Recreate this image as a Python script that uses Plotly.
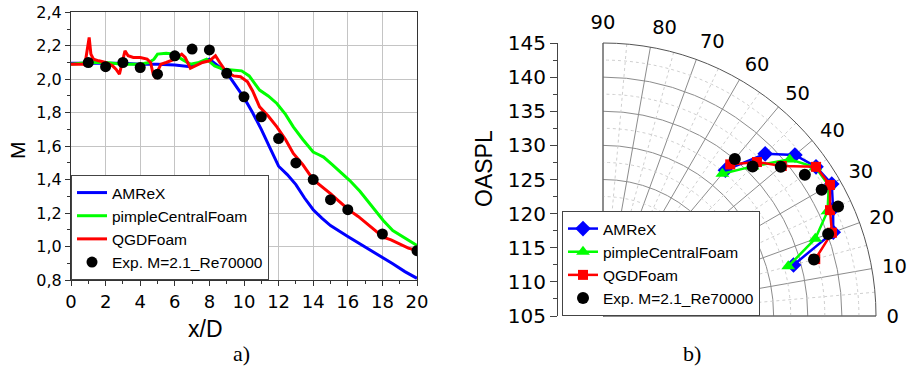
import numpy as np
import plotly.graph_objects as go

# ---------------- Data: left panel (Mach number along jet axis) ----------------
amrex_x = [0, 1, 2, 3, 4, 5, 6, 6.9, 7.5, 8.0, 8.5, 9.0, 9.5, 10.0, 10.5, 11.0, 11.5,
           12.0, 12.5, 13.0, 13.5, 14.0, 14.5, 15.0, 16.0, 16.7, 17.7, 18.6, 19.3, 20.0]
amrex_m = [2.095, 2.095, 2.095, 2.095, 2.09, 2.09, 2.085, 2.075, 2.10, 2.12, 2.08, 2.04,
           1.965, 1.89, 1.80, 1.70, 1.59, 1.48, 1.43, 1.37, 1.29, 1.22, 1.17, 1.125,
           1.06, 1.017, 0.957, 0.897, 0.85, 0.81]

pimple_x = [0, 1, 2, 3, 4, 4.5, 4.8, 5.0, 5.5, 6.0, 6.4, 6.9, 7.4, 7.84, 8.3, 8.8, 9.3,
            9.86, 10.3, 10.9, 11.4, 11.9, 12.4, 12.85, 13.4, 14.0, 14.3, 14.6, 15.1,
            15.7, 16.1, 16.7, 17.3, 18.05, 18.6, 19.3, 20.0]
pimple_m = [2.09, 2.10, 2.10, 2.09, 2.09, 2.10, 2.12, 2.15, 2.155, 2.15, 2.12, 2.09, 2.10,
            2.12, 2.08, 2.06, 2.055, 2.05, 2.02, 1.935, 1.90, 1.855, 1.79, 1.715, 1.64,
            1.565, 1.55, 1.535, 1.49, 1.436, 1.396, 1.33, 1.255, 1.156, 1.096, 1.05, 1.006]

qgd_x = [0, 0.7, 0.8, 0.95, 1.05, 1.15, 1.3, 1.6, 2.0, 2.4, 2.6, 2.8, 2.95, 3.12, 3.3,
         3.6, 4.0, 4.4, 4.6, 4.75, 4.85, 5.0, 5.2, 5.5, 6.0, 6.4, 6.6, 6.9, 7.2, 7.6,
         8.0, 8.35, 8.6, 9.0, 9.4, 9.8, 10.2, 10.5, 10.9, 11.4, 11.9, 12.4, 12.85, 13.4,
         14.0, 14.5, 15.0, 15.5, 16.1, 16.6, 17.1, 17.5, 18.05, 18.5, 19.0, 19.5, 20.0]
qgd_m = [2.09, 2.09, 2.085, 2.18, 2.25, 2.15, 2.12, 2.11, 2.10, 2.08, 2.06, 2.03, 2.09,
         2.17, 2.14, 2.13, 2.13, 2.12, 2.10, 2.03, 2.015, 2.05, 2.09, 2.10, 2.12, 2.15,
         2.13, 2.065, 2.08, 2.10, 2.11, 2.14, 2.10, 2.04, 2.02, 2.015, 1.985, 1.93,
         1.835, 1.78, 1.715, 1.64, 1.556, 1.49, 1.40, 1.36, 1.316, 1.27, 1.216, 1.18,
         1.136, 1.10, 1.056, 1.04, 1.016, 0.99, 0.976]

exp_x = [1, 2, 3, 4, 5, 6, 7, 8, 9, 10, 11, 12, 13, 14, 15, 16, 18, 20]
exp_m = [2.10, 2.075, 2.10, 2.07, 2.03, 2.14, 2.18, 2.175, 2.035, 1.895, 1.775, 1.645,
         1.50, 1.40, 1.28, 1.22, 1.075, 0.975]

x_ticks = [0, 2, 4, 6, 8, 10, 12, 14, 16, 18, 20]
m_ticks = [0.8, 1.0, 1.2, 1.4, 1.6, 1.8, 2.0, 2.2, 2.4]

# ---------------- Data: right panel (OASPL directivity) ----------------
angles = [50, 45, 40, 35, 30, 25, 20, 15]
oaspl_amrex = [132.9, 138.6, 141.7, 143.1, 143.7, 142.2, 140.9, 133.9]
oaspl_pimple = [132.2, 136.0, 140.7, 143.0, 143.2, 141.3, 138.1, 133.1]
oaspl_qgd = [134.0, 136.9, 139.2, 143.1, 143.4, 141.7, 140.7, 137.2]
oaspl_exp = [135.05, 136.0, 139.0, 141.1, 142.0, 143.0, 140.1, 137.0]
oaspl_ticks = [105, 110, 115, 120, 125, 130, 135, 140, 145]
angle_ticks = [0, 10, 20, 30, 40, 50, 60, 70, 80, 90]

BLUE, GREEN, RED = "#0000ff", "#00ff00", "#ff0000"
W, H = 909, 376
SANS = "Liberation Sans, Arial, sans-serif"
DEJA = "DejaVu Sans, sans-serif"

def px_x(p):
    return p / W

def px_y(p):
    return 1 - p / H

fig = go.Figure()

# ---- left panel traces ----
fig.add_trace(go.Scatter(x=amrex_x, y=amrex_m, mode="lines", name="AMReX",
                         line=dict(color=BLUE, width=3), legend="legend"))
fig.add_trace(go.Scatter(x=pimple_x, y=pimple_m, mode="lines", name="pimpleCentralFoam",
                         line=dict(color=GREEN, width=3), legend="legend"))
fig.add_trace(go.Scatter(x=qgd_x, y=qgd_m, mode="lines", name="QGDFoam",
                         line=dict(color=RED, width=3), legend="legend"))
fig.add_trace(go.Scatter(x=exp_x, y=exp_m, mode="markers", name="Exp. M=2.1_Re70000",
                         marker=dict(color="black", size=11), legend="legend"))

# ---- right panel: minor dashed grid (decoration) ----
th = np.linspace(0, 90, 91)
ring_r, ring_t = [], []
for rv in np.arange(107.5, 145, 5):
    ring_r += [rv] * len(th) + [None]
    ring_t += list(th) + [None]
ray_r, ray_t = [], []
for a in range(5, 90, 10):
    ray_r += [105, 145, None]
    ray_t += [a, a, None]
fig.add_trace(go.Scatterpolar(r=ring_r + ray_r, theta=ring_t + ray_t, mode="lines",
                              line=dict(color="#cfcfcf", width=1, dash="3px,3px"),
                              showlegend=False, hoverinfo="skip", connectgaps=False))

fig.add_trace(go.Scatterpolar(r=oaspl_amrex, theta=angles, mode="lines+markers", name="AMReX",
                              line=dict(color=BLUE, width=2.5),
                              marker=dict(symbol="diamond", size=12, color=BLUE), legend="legend2"))
fig.add_trace(go.Scatterpolar(r=oaspl_pimple, theta=angles, mode="lines+markers",
                              name="pimpleCentralFoam", line=dict(color=GREEN, width=2.5),
                              marker=dict(symbol="triangle-up", size=12, color=GREEN),
                              legend="legend2"))
fig.add_trace(go.Scatterpolar(r=oaspl_qgd, theta=angles, mode="lines+markers", name="QGDFoam",
                              line=dict(color=RED, width=2.5),
                              marker=dict(symbol="square", size=10, color=RED), legend="legend2"))
fig.add_trace(go.Scatterpolar(r=oaspl_exp, theta=angles, mode="markers",
                              name="Exp. M=2.1_Re70000",
                              marker=dict(symbol="circle", size=12, color="black"),
                              legend="legend2"))

# dummy trace for the separate OASPL scale axis
fig.add_trace(go.Scatter(x=[None], y=[None], xaxis="x2", yaxis="y2", showlegend=False,
                         hoverinfo="skip"))

polar_l, polar_r, polar_t, polar_b = 603, 876, 43, 316

fig.update_layout(
    template="none",
    width=W, height=H, margin=dict(l=0, r=0, t=0, b=0, autoexpand=False),
    paper_bgcolor="white", plot_bgcolor="white",
    separators=", ",
    font=dict(family=SANS, color="black"),
    xaxis=dict(domain=[px_x(71), px_x(417)], range=[0, 20], tickvals=x_ticks,
               automargin=False,
               ticks="outside", ticklen=5, tickcolor="#333",
               minor=dict(dtick=1, ticks="outside", ticklen=3, tickcolor="#333", showgrid=False),
               showgrid=True, gridcolor="#c4c4c4", gridwidth=1,
               showline=True, linecolor="#333", linewidth=1, mirror=True,
               tickfont=dict(family=DEJA, size=18), zeroline=False, anchor="y"),
    yaxis=dict(domain=[px_y(280), px_y(12.3)], range=[0.8, 2.4], tickvals=m_ticks,
               tickformat=".1f", automargin=False,
               ticks="outside", ticklen=5, tickcolor="#333",
               minor=dict(dtick=0.1, ticks="outside", ticklen=3, tickcolor="#333", showgrid=False),
               showgrid=True, gridcolor="#c4c4c4", gridwidth=1,
               showline=True, linecolor="#333", linewidth=1, mirror=True,
               tickfont=dict(family=DEJA, size=16), zeroline=False, anchor="x"),
    xaxis2=dict(domain=[px_x(558), px_x(600)], visible=False, anchor="y2", range=[0, 1],
                automargin=False),
    yaxis2=dict(domain=[px_y(polar_b), px_y(polar_t)], range=[105, 145], tickvals=oaspl_ticks,
                anchor="free", position=px_x(557), side="left", automargin=False,
                ticks="outside", ticklen=7, tickcolor="#444",
                minor=dict(dtick=2.5, ticks="outside", ticklen=4, tickcolor="#444", showgrid=False),
                showgrid=False, zeroline=False, showline=True, linecolor="#444", linewidth=1,
                tickfont=dict(family=DEJA, size=20)),
    polar=dict(
        domain=dict(x=[px_x(polar_l), px_x(polar_r)], y=[px_y(polar_b), px_y(polar_t)]),
        sector=[0, 90], bgcolor="white",
        radialaxis=dict(range=[105, 145], tickvals=oaspl_ticks, showticklabels=False,
                        ticks="", showline=False, gridcolor="#8c8c8c", gridwidth=1, angle=90),
        angularaxis=dict(tickvals=angle_ticks, rotation=0, direction="counterclockwise",
                         ticks="outside", ticklen=6, tickcolor="rgba(0,0,0,0)",
                         showline=True, linecolor="#555", linewidth=1,
                         gridcolor="#8c8c8c", gridwidth=1,
                         tickfont=dict(family=DEJA, size=19.5)),
    ),
    legend=dict(x=px_x(71), y=px_y(280), xanchor="left", yanchor="bottom",
                bgcolor="white", bordercolor="#444", borderwidth=1,
                font=dict(family=SANS, size=15.5), tracegroupgap=0,
                itemwidth=30),
    legend2=dict(x=px_x(562), y=px_y(316), xanchor="left", yanchor="bottom",
                 bgcolor="white", bordercolor="#444", borderwidth=1,
                 font=dict(family=SANS, size=15.5), tracegroupgap=0,
                 itemwidth=30),
    showlegend=True,
)

annotations = [
    dict(text="x/D", x=px_x(205), y=px_y(329), font=dict(family=SANS, size=23)),
    dict(text="M", x=px_x(17), y=px_y(150), textangle=-90, font=dict(family=SANS, size=21)),
    dict(text="OASPL", x=px_x(484), y=px_y(168), textangle=-90,
         font=dict(family=SANS, size=23)),
    dict(text="a)", x=px_x(241), y=px_y(353), font=dict(family="Liberation Serif, serif", size=22)),
    dict(text="b)", x=px_x(692), y=px_y(353), font=dict(family="Liberation Serif, serif", size=22)),
]
for a in annotations:
    a.update(xref="paper", yref="paper", showarrow=False, xanchor="center", yanchor="middle")
fig.update_layout(annotations=annotations)

fig.write_html("out.html")
